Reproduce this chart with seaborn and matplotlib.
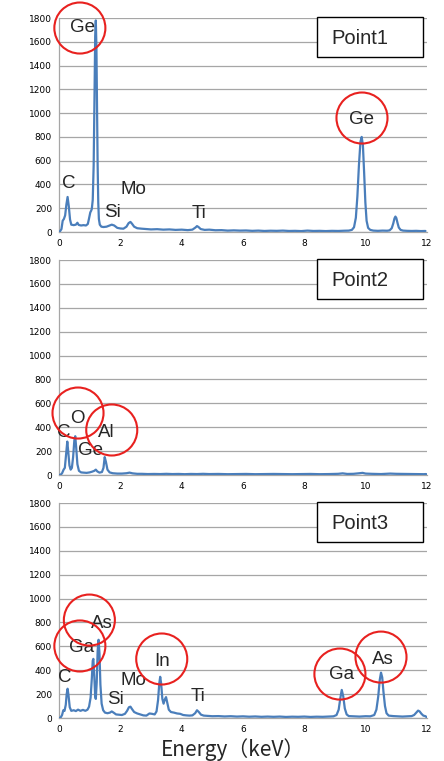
import matplotlib.pyplot as plt
from matplotlib.patches import Rectangle
import seaborn as sns
import pandas as pd

# EDX spectra: energy (keV) and counts
p1_energy = [0.00, 0.03, 0.08, 0.12, 0.16, 0.20, 0.24, 0.28, 0.32, 0.36,
             0.40, 0.48, 0.55, 0.60, 0.64, 0.72, 0.80, 0.88, 0.94, 0.98,
             1.02, 1.05, 1.07, 1.10, 1.13, 1.16, 1.18, 1.20, 1.22, 1.24,
             1.26, 1.28, 1.30, 1.33, 1.38, 1.45, 1.55, 1.65, 1.72, 1.80,
             1.90, 2.00, 2.10, 2.20, 2.27, 2.33, 2.38, 2.45, 2.55, 2.70,
             2.85, 3.00, 3.20, 3.40, 3.60, 3.80, 4.00, 4.20, 4.35, 4.45,
             4.50, 4.55, 4.62, 4.75, 4.90, 5.10, 5.30, 5.50, 5.70, 5.90,
             6.10, 6.30, 6.50, 6.70, 6.90, 7.10, 7.30, 7.50, 7.70, 7.90,
             8.10, 8.30, 8.50, 8.70, 8.90, 9.10, 9.30, 9.45, 9.55, 9.62,
             9.68, 9.73, 9.78, 9.83, 9.87, 9.91, 9.95, 9.99, 10.03, 10.08,
             10.15, 10.25, 10.40, 10.55, 10.70, 10.78, 10.85, 10.90, 10.94, 10.97,
             11.00, 11.04, 11.08, 11.14, 11.22, 11.35, 11.50, 11.65, 11.80, 11.95]
p1_counts = [0, 5, 25, 95, 110, 140, 230, 295, 215, 105,
             62, 58, 62, 78, 60, 55, 58, 55, 68, 115,
             165, 180, 195, 270, 560, 1200, 1650, 1780, 1560, 1050,
             560, 250, 110, 62, 45, 42, 45, 55, 62, 55,
             35, 30, 28, 45, 75, 85, 70, 45, 32, 28,
             25, 22, 24, 20, 22, 18, 20, 16, 20, 38,
             50, 42, 25, 18, 20, 15, 16, 12, 14, 12,
             13, 10, 12, 9, 11, 10, 12, 9, 10, 8,
             12, 9, 10, 8, 10, 9, 11, 12, 18, 40,
             120, 300, 560, 760, 800, 730, 500, 250, 95, 35,
             18, 12, 10, 12, 11, 14, 32, 72, 115, 130,
             118, 75, 38, 18, 12, 10, 9, 10, 8, 9]

p2_energy = [0.00, 0.05, 0.10, 0.15, 0.19, 0.23, 0.27, 0.30, 0.34, 0.38,
             0.42, 0.46, 0.50, 0.53, 0.56, 0.60, 0.65, 0.72, 0.80, 0.90,
             1.00, 1.08, 1.15, 1.20, 1.25, 1.32, 1.40, 1.45, 1.49, 1.53,
             1.58, 1.65, 1.75, 1.90, 2.05, 2.20, 2.30, 2.40, 2.55, 2.70,
             2.90, 3.10, 3.30, 3.50, 3.70, 3.90, 4.10, 4.30, 4.50, 4.70,
             4.90, 5.20, 5.50, 5.80, 6.10, 6.40, 6.70, 7.00, 7.30, 7.60,
             7.90, 8.20, 8.50, 8.80, 9.10, 9.25, 9.40, 9.60, 9.80, 9.90,
             10.00, 10.20, 10.50, 10.80, 11.00, 11.30, 11.60, 11.90, 11.95, 12.00]
p2_counts = [0, 2, 15, 45, 60, 170, 280, 200, 80, 45,
             60, 150, 290, 325, 230, 90, 35, 22, 20, 18,
             22, 28, 35, 45, 30, 20, 25, 60, 150, 110,
             45, 22, 15, 12, 12, 15, 20, 14, 10, 10,
             8, 9, 8, 10, 8, 9, 7, 9, 8, 10,
             8, 9, 7, 8, 9, 7, 8, 9, 8, 7,
             8, 9, 7, 8, 10, 14, 9, 10, 15, 18,
             12, 10, 8, 12, 10, 9, 8, 7, 8, 6]

p3_energy = [0.00, 0.05, 0.10, 0.14, 0.18, 0.22, 0.25, 0.28, 0.31, 0.35,
             0.40, 0.48, 0.55, 0.62, 0.70, 0.78, 0.86, 0.93, 0.98, 1.03,
             1.07, 1.10, 1.12, 1.15, 1.18, 1.20, 1.23, 1.26, 1.29, 1.32,
             1.35, 1.39, 1.44, 1.50, 1.58, 1.66, 1.72, 1.78, 1.86, 1.95,
             2.05, 2.15, 2.22, 2.28, 2.33, 2.38, 2.45, 2.55, 2.65, 2.75,
             2.85, 2.95, 3.03, 3.12, 3.18, 3.23, 3.27, 3.30, 3.33, 3.37,
             3.41, 3.45, 3.49, 3.53, 3.58, 3.65, 3.75, 3.85, 3.95, 4.05,
             4.15, 4.25, 4.35, 4.44, 4.50, 4.56, 4.63, 4.72, 4.85, 5.00,
             5.20, 5.40, 5.60, 5.80, 6.00, 6.20, 6.40, 6.60, 6.80, 7.00,
             7.20, 7.40, 7.60, 7.80, 8.00, 8.20, 8.40, 8.60, 8.80, 8.95,
             9.05, 9.12, 9.17, 9.22, 9.27, 9.32, 9.38, 9.45, 9.60, 9.80,
             10.00, 10.15, 10.28, 10.35, 10.41, 10.46, 10.50, 10.54, 10.58, 10.63,
             10.68, 10.75, 10.90, 11.05, 11.20, 11.35, 11.50, 11.58, 11.65, 11.71,
             11.76, 11.82, 11.88, 11.95, 12.00]
p3_counts = [0, 3, 25, 65, 60, 110, 200, 245, 190, 90,
             60, 65, 58, 70, 60, 68, 60, 70, 95, 170,
             330, 480, 495, 350, 180, 160, 300, 560, 655, 540,
             280, 120, 65, 45, 40, 45, 55, 45, 30, 28,
             25, 35, 60, 90, 95, 75, 50, 38, 30, 22,
             20, 38, 35, 30, 55, 150, 290, 345, 290, 160,
             120, 155, 175, 130, 70, 50, 45, 38, 35, 25,
             22, 20, 22, 40, 65, 50, 28, 20, 18, 15,
             16, 13, 15, 12, 14, 11, 13, 10, 12, 10,
             12, 9, 11, 10, 12, 9, 11, 10, 12, 14,
             25, 70, 160, 235, 180, 80, 30, 16, 14, 12,
             15, 14, 25, 70, 180, 320, 380, 340, 220, 100,
             40, 20, 16, 14, 12, 14, 16, 25, 45, 62,
             55, 35, 20, 15, 5]

panel_names = ["Point1", "Point2", "Point3"]
x_ticks = [0, 2, 4, 6, 8, 10, 12]
y_ticks = [0, 200, 400, 600, 800, 1000, 1200, 1400, 1600, 1800]
x_label = "Energy（keV）"

spectra = [(p1_energy, p1_counts), (p2_energy, p2_counts), (p3_energy, p3_counts)]

# element labels and red circles, placed by hand
labels = [
    [("Ge", 0.75, 1720), ("Ge", 9.88, 950), ("C", 0.33, 410),
     ("Mo", 2.42, 355), ("Si", 1.76, 165), ("Ti", 4.57, 160)],
    [("C", 0.14, 360), ("O", 0.59, 477), ("Al", 1.53, 352), ("Ge", 1.04, 209)],
    [("As", 1.39, 795), ("Ga", 0.74, 594), ("C", 0.20, 343), ("Mo", 2.42, 318),
     ("Si", 1.83, 159), ("In", 3.37, 469), ("Ti", 4.54, 176),
     ("Ga", 9.23, 368), ("As", 10.56, 494)],
]
circles = [
    [(0.68, 1716), (9.88, 959)],
    [(0.62, 519), (1.72, 377)],
    [(0.99, 820), (0.68, 603), (3.35, 494), (9.16, 368), (10.50, 510)],
]

sns.set_style("white")
plt.rcParams['font.family'] = ['DejaVu Sans']

line_color = "#4A7EBB"
circle_color = "#E8211F"
grid_color = "#A6A6A6"
label_font = ['Liberation Sans', 'DejaVu Sans']

fig = plt.figure(figsize=(4.44, 7.61), dpi=100)
bottoms = [0.6951, 0.3758, 0.0565]
heights = [0.2812, 0.2825, 0.2825]

for i in range(3):
    ax = fig.add_axes([0.1329, bottoms[i], 0.8288, heights[i]])
    energy, counts = spectra[i]
    df = pd.DataFrame({"energy": energy, "counts": counts})
    sns.lineplot(data=df, x="energy", y="counts", ax=ax, color=line_color,
                 linewidth=1.6, zorder=3)

    ax.set_xlim(0, 12)
    ax.set_ylim(0, 1800)
    ax.set_xticks(x_ticks)
    ax.set_yticks(y_ticks)
    ax.set_xlabel("")
    ax.set_ylabel("")
    ax.grid(axis='y', color=grid_color, linewidth=0.9)
    ax.grid(axis='x', visible=False)
    ax.set_axisbelow(True)
    for side in ['top', 'right']:
        ax.spines[side].set_visible(False)
    for side in ['left', 'bottom']:
        ax.spines[side].set_color(grid_color)
        ax.spines[side].set_linewidth(0.9)
    ax.tick_params(axis='both', labelsize=6.5, colors='black', length=3,
                   width=0.8, direction='out', pad=2)
    ax.tick_params(axis='both', color=grid_color)

    for txt, x, y in labels[i]:
        ax.text(x, y, txt, fontsize=13.5, family=label_font, ha='center',
                va='center', zorder=4)
    cx = [c[0] for c in circles[i]]
    cy = [c[1] for c in circles[i]]
    ax.scatter(cx, cy, s=1350, facecolors='none', edgecolors=circle_color,
               linewidths=1.5, zorder=5, clip_on=False)

    ax.add_patch(Rectangle((0.701, 0.82), 0.288, 0.185, transform=ax.transAxes,
                           facecolor='white', edgecolor='black', linewidth=1.0,
                           zorder=6, clip_on=False))
    ax.text(0.818, 0.905, panel_names[i], transform=ax.transAxes, fontsize=14.5,
            family=label_font, ha='center', va='center', zorder=7)

fig.text(0.525, 0.0145, x_label, fontsize=15, ha='center', va='center',
         family=['Noto Sans CJK JP', 'DejaVu Sans'])

fig.savefig("out.png", dpi=100)
